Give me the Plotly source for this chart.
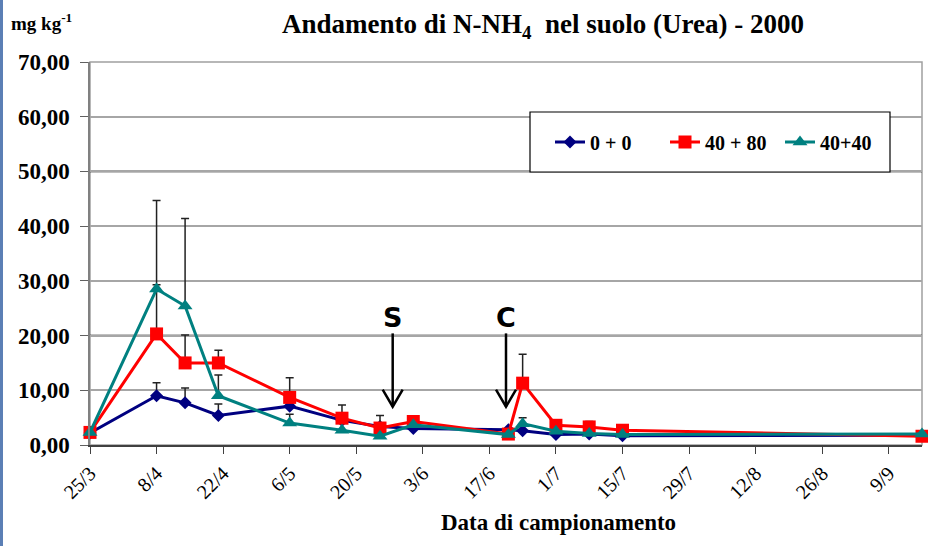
import plotly.graph_objects as go

# Sampling dates (2000) and N-NH4 concentrations in soil, mg/kg
dates = ["2000-03-25", "2000-04-08", "2000-04-14", "2000-04-21", "2000-05-06",
         "2000-05-17", "2000-05-25", "2000-06-01", "2000-06-21", "2000-06-24",
         "2000-07-01", "2000-07-08", "2000-07-15", "2000-09-16"]

series_names = ["0 + 0", "40 + 80", "40+40"]

nh4_0_0 = [2.2, 9.0, 7.7, 5.4, 7.1, 4.5, 3.4, 3.0, 2.8, 2.6, 1.9, 2.0, 1.7, 1.8]
nh4_40_80 = [2.3, 20.3, 15.0, 15.0, 8.7, 4.9, 3.1, 4.3, 2.0, 11.3, 3.6, 3.3, 2.7, 1.6]
nh4_40_40 = [2.3, 28.5, 25.4, 9.0, 4.0, 2.7, 1.6, 3.7, 1.9, 3.9, 2.5, 2.1, 1.9, 2.0]

# Upper error (standard deviation) for each series; None = not shown
err_0_0 = [None, 2.4, 2.7, 2.1, None, None, None, None, None, None, None, None, None, None]
err_40_80 = [None, 9.0, 5.1, 2.3, 3.6, 2.4, 2.3, None, None, 5.3, None, 1.0, None, None]
err_40_40 = [None, 16.2, 16.0, 3.8, 1.6, None, None, None, None, 1.1, None, None, None, None]

y_ticks = [0, 10, 20, 30, 40, 50, 60, 70]
dark_grid = [20, 50]

# Field operations marked on the chart: label, date, arrow top / tip (mg/kg)
events = [("S", "2000-05-27 16:00"), ("C", "2000-06-20 12:00")]
arrow_top, arrow_tip, letter_y = 20.4, 7.0, 23.3

W, H = 928, 546
M_L, M_R, M_T, M_B = 90, 6, 62, 101
PW, PH = W - M_L - M_R, H - M_T - M_B

SERIF = "Liberation Serif"
colors = ["#000080", "#FF0000", "#008080"]
symbols = ["diamond", "square", "triangle-up"]
msizes = [10, 13, 13]

fig = go.Figure()
for name, ys, errs, c, s, ms in zip(series_names, [nh4_0_0, nh4_40_80, nh4_40_40],
                                    [err_0_0, err_40_80, err_40_40], colors, symbols, msizes):
    fig.add_trace(go.Scatter(
        x=dates, y=ys, name=name, mode="lines+markers",
        line=dict(color=c, width=3),
        marker=dict(symbol=s, size=ms, color=c),
        error_y=dict(type="data", symmetric=False, array=errs,
                     arrayminus=[0] * len(errs), color="#222222",
                     thickness=1.5, width=4),
        cliponaxis=False,
    ))

shapes = []
# plot-area frame
shapes.append(dict(type="rect", xref="x domain", yref="y domain", x0=0, x1=1, y0=0, y1=1,
                   line=dict(color="#A0A0A0", width=1.5), layer="below"))
for g in dark_grid:
    shapes.append(dict(type="line", xref="x domain", yref="y", x0=0, x1=1, y0=g, y1=g,
                       line=dict(color="#000000", width=1.5), layer="below"))
# legend frame
lx0, lx1, ly0, ly1 = 530, 890, 112, 172
shapes.append(dict(type="rect", xref="paper", yref="paper",
                   x0=(lx0 - M_L) / PW, x1=(lx1 - M_L) / PW,
                   y0=(H - M_B - ly1) / PH, y1=(H - M_B - ly0) / PH,
                   line=dict(color="#000000", width=1.2), fillcolor="white", layer="above"))
# slide edge strip on the left
shapes.append(dict(type="rect", xref="paper", yref="paper",
                   x0=(0 - M_L) / PW, x1=(3 - M_L) / PW,
                   y0=-M_B / PH, y1=1 + M_T / PH,
                   line=dict(width=0), fillcolor="#5B7FB5", layer="above"))

annotations = []
for label, d in events:
    # arrow shaft + open head, in pixels around the tip
    shapes.append(dict(type="line", xref="x", yref="y", x0=d, x1=d, y0=arrow_top, y1=arrow_tip,
                       line=dict(color="black", width=2.5)))
    shapes.append(dict(type="path", xref="x", yref="y", xsizemode="pixel", ysizemode="pixel",
                       xanchor=d, yanchor=arrow_tip, path="M -10,17 L 0,0 L 10,17",
                       line=dict(color="black", width=2.5)))
    annotations.append(dict(x=d, y=letter_y, xref="x", yref="y", text="<b>%s</b>" % label,
                            showarrow=False, xanchor="center", yanchor="middle",
                            font=dict(family="DejaVu Sans", size=27, color="black")))

annotations.append(dict(x=(9 - M_L) / PW, y=(H - M_B - 22) / PH, xref="paper", yref="paper",
                        text="<b>mg kg<sup>-1</sup></b>", showarrow=False,
                        xanchor="left", yanchor="middle",
                        font=dict(family=SERIF, size=19, color="black")))
annotations.append(dict(x=(558 - M_L) / PW, y=(H - M_B - 522) / PH, xref="paper", yref="paper",
                        text="<b>Data di campionamento</b>", showarrow=False,
                        xanchor="center", yanchor="middle",
                        font=dict(family=SERIF, size=23, color="black")))

fig.update_layout(
    width=W, height=H,
    margin=dict(l=M_L, r=M_R, t=M_T, b=M_B),
    paper_bgcolor="white", plot_bgcolor="white",
    separators=",.",
    title=dict(text="<b>Andamento di N-NH<sub>4</sub>  nel suolo (Urea) - 2000</b>",
               x=543 / W, xanchor="center", y=1 - 24 / H, yanchor="middle",
               font=dict(family=SERIF, size=27, color="black")),
    showlegend=True,
    legend=dict(orientation="h", x=(550 - M_L) / PW, xanchor="left",
                y=(H - M_B - 142) / PH, yanchor="middle",
                bgcolor="rgba(0,0,0,0)", borderwidth=0, itemwidth=30,
                entrywidth=70, entrywidthmode="pixels",
                font=dict(family=SERIF, size=20, color="black", weight="bold"),
                itemclick=False),
    shapes=shapes,
    annotations=annotations,
    xaxis=dict(type="date", range=[dates[0], dates[-1]],
               tick0=dates[0], dtick=14 * 86400000, tickformat="%-d/%-m",
               tickangle=-45, ticks="outside", ticklen=7, tickcolor="#404040",
               showline=True, linecolor="#404040", linewidth=1.5,
               showgrid=False, zeroline=False,
               tickfont=dict(family=SERIF, size=20, color="black")),
    yaxis=dict(range=[0, 70], tickvals=y_ticks, tickformat=".2f",
               ticks="outside", ticklen=8, tickcolor="#606060",
               showline=True, linecolor="#808080", linewidth=1.5,
               showgrid=True, gridcolor="#A6A6A6", gridwidth=1.5, zeroline=False,
               ticklabelstandoff=6,
               tickfont=dict(family=SERIF, size=23, color="black", weight="bold")),
)

fig.write_html("out.html")
